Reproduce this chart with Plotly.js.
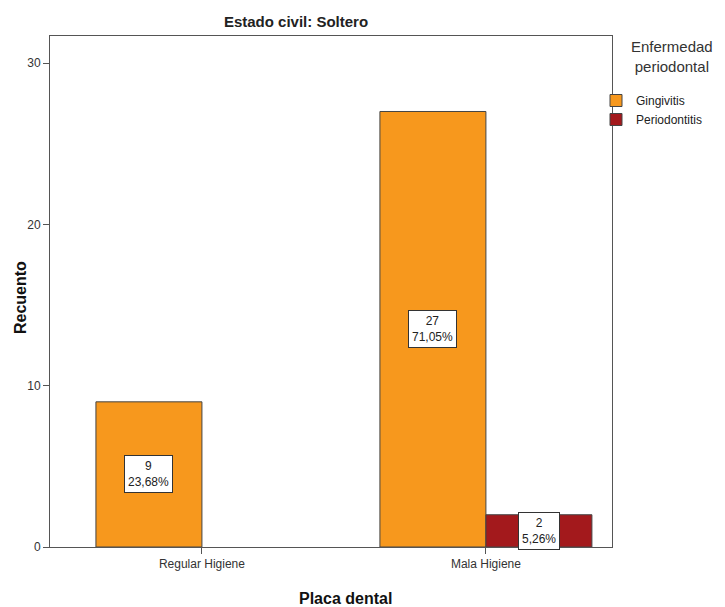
<!DOCTYPE html>
<html>
<head>
<meta charset="utf-8">
<script src="https://cdn.plot.ly/plotly-3.0.1.min.js"></script>
<style>html,body{margin:0;padding:0;background:#fff;}#chart{width:725px;height:607px;}</style>
</head>
<body>
<div id="chart"></div>
<script>
const categories = ["Regular Higiene", "Mala Higiene"];
const gingivitis = [9, 27];
const periodontitis = [null, 2];
const gingivitisPct = ["23,68%", "71,05%"];
const periodontitisPct = [null, "5,26%"];
const seriesNames = ["Gingivitis", "Periodontitis"];
const yTicks = [0, 10, 20, 30];

const colors = ["#F7981D", "#A3191C"];
const lbl = {family: "Liberation Sans, Arial, sans-serif", size: 12, color: "#222"};

const traces = [
  {type: "bar", name: seriesNames[0], x: categories, y: gingivitis,
   marker: {color: colors[0], line: {color: "#444", width: 1}}, hoverinfo: "none"},
  {type: "bar", name: seriesNames[1], x: categories, y: periodontitis,
   marker: {color: colors[1], line: {color: "#444", width: 1}}, hoverinfo: "none"}
];

const annotations = [];
const bw = 0.3733;
categories.forEach((c, i) => {
  if (gingivitis[i] != null) {
    annotations.push({x: i - bw/2, y: gingivitis[i] / 2, xref: "x", yref: "y",
      text: gingivitis[i] + "<br>" + gingivitisPct[i], showarrow: false,
      bgcolor: "#fff", bordercolor: "#333", borderwidth: 1, borderpad: 3, font: lbl});
  }
  if (periodontitis[i] != null) {
    annotations.push({x: i + bw/2, y: periodontitis[i] / 2, xref: "x", yref: "y",
      text: periodontitis[i] + "<br>" + periodontitisPct[i], showarrow: false,
      bgcolor: "#fff", bordercolor: "#333", borderwidth: 1, borderpad: 3, font: lbl});
  }
});
annotations.push({xref: "paper", yref: "paper", x: (672-50)/562, y: 1.0, xanchor: "center", yanchor: "top",
  text: "Enfermedad<br>periodontal", showarrow: false,
  font: {family: "Liberation Sans, Arial, sans-serif", size: 15, color: "#333"}});
annotations.push({xref: "paper", yref: "paper", x: (345-50)/562, y: -(598-547)/511, xanchor: "center", yanchor: "middle",
  text: "<b>Placa dental</b>", showarrow: false,
  font: {family: "Liberation Sans, Arial, sans-serif", size: 16, color: "#111"}});
annotations.push({xref: "paper", yref: "paper", x: -(30)/562, y: (547-298)/511, xanchor: "center", yanchor: "middle",
  text: "<b>Recuento</b>", showarrow: false, textangle: -90,
  font: {family: "Liberation Sans, Arial, sans-serif", size: 16, color: "#111"}});

const layout = {
  width: 725, height: 607,
  margin: {l: 50, r: 113, t: 36, b: 60, autoexpand: false},
  paper_bgcolor: "#fff", plot_bgcolor: "#fff",
  barmode: "group", bargap: 0.2535, bargroupgap: 0,
  title: {text: "<b>Estado civil: Soltero</b>", x: 296/725, xanchor: "center", y: 1 - 22/607, yanchor: "middle",
    font: {family: "Liberation Sans Narrow, Liberation Sans, Arial, sans-serif", size: 15, color: "#222"}},
  xaxis: {type: "category", range: [-0.535, 1.444], showline: true, mirror: true, linecolor: "#555", linewidth: 1,
    ticks: "outside", ticklen: 6, tickcolor: "#555", showgrid: false, zeroline: false,
    tickfont: {family: "Liberation Sans, Arial, sans-serif", size: 12, color: "#333"}},
  yaxis: {range: [0, 31.68], tickvals: yTicks, showline: true, mirror: true, linecolor: "#555", linewidth: 1,
    ticks: "outside", ticklen: 6, tickcolor: "#555", showgrid: false, zeroline: false,
    tickfont: {family: "Liberation Sans, Arial, sans-serif", size: 12, color: "#333"}},
  legend: {x: (596-50)/562, xanchor: "left", y: (547-86)/511, yanchor: "top", bgcolor: "rgba(0,0,0,0)",
    font: {family: "Liberation Sans, Arial, sans-serif", size: 12, color: "#222"},
    tracegroupgap: 0, itemwidth: 30},
  annotations: annotations,
  showlegend: true
};

Plotly.newPlot("chart", traces, layout, {displayModeBar: false, staticPlot: true});
</script>
</body>
</html>
